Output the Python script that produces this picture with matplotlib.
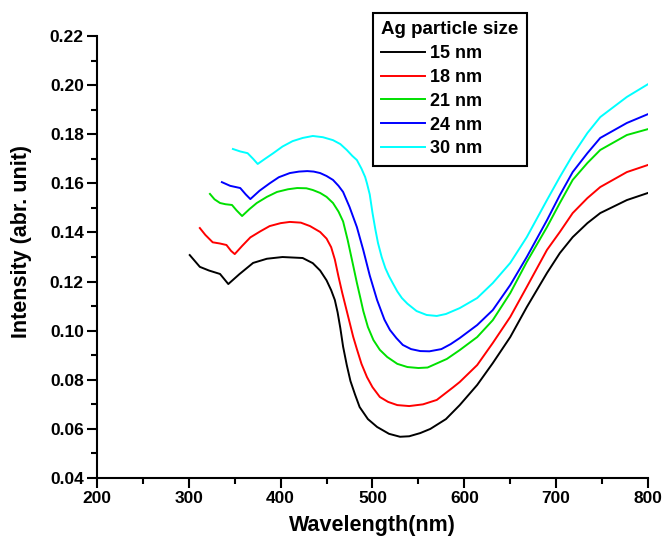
import numpy as np
import matplotlib
matplotlib.use('Agg')
import matplotlib.pyplot as plt
from matplotlib.ticker import MultipleLocator, FormatStrFormatter

plt.rcParams['font.family'] = ['Liberation Sans', 'DejaVu Sans']
plt.rcParams['font.weight'] = 'bold'

# values
labels = ['15 nm', '18 nm', '21 nm', '24 nm', '30 nm']
colors = ['black', '#ff0000', '#00e000', '#0000ff', '#00ffff']

w15 = [301, 312, 322, 334, 343, 355, 370, 385, 402, 424, 435, 443, 450, 455, 459, 462, 465, 468,
       472, 476, 481, 486, 495, 505, 518, 530, 540, 552, 563, 580, 595, 614, 631, 650, 668, 690,
       704, 718, 734, 748, 777, 800]
i15 = [0.1308, 0.126, 0.1245, 0.1231, 0.119, 0.123, 0.1276, 0.1293, 0.1300, 0.1296, 0.1275, 0.1245,
       0.1205, 0.1165, 0.1125, 0.1075, 0.1010, 0.0935, 0.0860, 0.0795, 0.074, 0.0689, 0.064,
       0.0608, 0.058, 0.0568, 0.0570, 0.0583, 0.0600, 0.0640, 0.0697, 0.0779, 0.0868, 0.0974,
       0.1096, 0.1235, 0.1316, 0.1381, 0.1438, 0.1479, 0.1532, 0.1561]

w18 = [312, 318, 326, 334, 341, 346, 350, 358, 367, 378, 388, 400, 410, 422, 432, 443, 450, 455,
       459, 463, 467, 471, 475, 479, 483, 488, 494, 500, 508, 517, 527, 540, 555, 570, 588, 595,
       614, 631, 650, 668, 690, 704, 718, 734, 748, 777, 800]
i18 = [0.1418, 0.139, 0.136, 0.1355, 0.1349, 0.1325, 0.1312, 0.1345, 0.138, 0.1405, 0.1426, 0.1438,
       0.1443, 0.144, 0.1426, 0.1402, 0.1375, 0.1340, 0.1290, 0.1220, 0.1155, 0.1095, 0.1035,
       0.0975, 0.0925, 0.0865, 0.0811, 0.0770, 0.0730, 0.0710, 0.0697, 0.0693, 0.0700, 0.0718,
       0.0770, 0.0791, 0.0860, 0.0950, 0.1056, 0.1178, 0.1329, 0.1402, 0.1479, 0.1540, 0.1585,
       0.1646, 0.1675]

w21 = [323, 328, 334, 340, 347, 352, 358, 366, 374, 385, 396, 408, 418, 428, 435, 443, 450, 457,
       463, 468, 473, 479, 483, 487, 490, 495, 501, 508, 516, 527, 538, 550, 560, 581, 595, 614,
       631, 650, 668, 690, 704, 718, 734, 748, 777, 800]
i21 = [0.1557, 0.1535, 0.152, 0.1515, 0.1512, 0.149, 0.1467, 0.1495, 0.152, 0.1545, 0.1565, 0.1576,
       0.1581, 0.158, 0.1573, 0.1561, 0.1545, 0.1520, 0.1485, 0.1445, 0.1369, 0.1265, 0.1195,
       0.1130, 0.1080, 0.1015, 0.0962, 0.0922, 0.0893, 0.0865, 0.0852, 0.0848, 0.0850, 0.0885,
       0.0921, 0.0974, 0.1043, 0.1153, 0.1280, 0.1422, 0.1520, 0.1614, 0.1683, 0.1736, 0.1797,
       0.1821]

w24 = [336, 345, 356, 362, 367, 377, 388, 398, 410, 420, 429, 436, 443, 450, 457, 463, 468, 475,
       483, 490, 497, 501, 505, 509, 513, 519, 526, 533, 542, 552, 562, 575, 585, 595, 614, 631,
       650, 668, 690, 704, 718, 734, 748, 777, 800]
i24 = [0.1605, 0.159, 0.1581, 0.1555, 0.1536, 0.157, 0.160, 0.1625, 0.1642, 0.1648, 0.165, 0.1648,
       0.1642, 0.1630, 0.1614, 0.1590, 0.1565, 0.1504, 0.1422, 0.1328, 0.1225, 0.1175, 0.1125,
       0.1085, 0.1045, 0.1003, 0.0970, 0.0942, 0.0925, 0.0917, 0.0916, 0.0925, 0.0945, 0.0970,
       0.1023, 0.1084, 0.1186, 0.1300, 0.1450, 0.1552, 0.1646, 0.1723, 0.1785, 0.1846, 0.1882]

w30 = [348, 356, 364, 370, 375, 383, 392, 402, 413, 424, 435, 446, 457, 465, 472, 478, 483, 488,
       492, 494, 497, 500, 503, 506, 510, 514, 518, 522, 527, 532, 538, 548, 559, 570, 580, 595,
       614, 631, 650, 668, 690, 704, 718, 734, 748, 777, 800]
i30 = [0.174, 0.173, 0.1723, 0.170, 0.1679, 0.170, 0.1723, 0.175, 0.1772, 0.1785, 0.1793, 0.1788,
       0.1776, 0.1760, 0.1736, 0.1712, 0.1695, 0.1660, 0.1626, 0.1600, 0.1555, 0.1480, 0.1415,
       0.1357, 0.1300, 0.1255, 0.1222, 0.1194, 0.1160, 0.1133, 0.1110, 0.1080, 0.1064, 0.1060,
       0.1068, 0.1092, 0.1133, 0.1194, 0.1276, 0.1381, 0.1532, 0.1626, 0.1715, 0.1805, 0.1870,
       0.1952, 0.2004]

wavelengths = [w15, w18, w21, w24, w30]
intensities = [i15, i18, i21, i24, i30]

fig = plt.figure(figsize=(6.67, 5.38), dpi=100)
ax = fig.add_axes([0.1454, 0.1115, 0.8261, 0.8215])

for w, i, c, lab in zip(wavelengths, intensities, colors, labels):
    ax.plot(w, i, color=c, lw=1.4, label=lab)

ax.set_xlim(200, 800)
ax.set_ylim(0.04, 0.22)
ax.xaxis.set_major_locator(MultipleLocator(100))
ax.xaxis.set_minor_locator(MultipleLocator(50))
ax.yaxis.set_major_locator(MultipleLocator(0.02))
ax.yaxis.set_minor_locator(MultipleLocator(0.01))
ax.yaxis.set_major_formatter(FormatStrFormatter('%.2f'))

for s in ['top', 'right']:
    ax.spines[s].set_visible(False)
for s in ['left', 'bottom']:
    ax.spines[s].set_linewidth(1.5)
ax.tick_params(which='major', direction='out', length=7, width=1.5, labelsize=12.5, pad=2.5)
ax.tick_params(which='minor', direction='out', length=4, width=1.5)
for t in ax.get_xticklabels() + ax.get_yticklabels():
    t.set_fontweight('bold')

ax.set_xlabel('Wavelength(nm)', fontsize=15.5, fontweight='bold', labelpad=6)
ax.set_ylabel('Intensity (abr. unit)', fontsize=15.5, fontweight='bold')
ax.yaxis.set_label_coords(-0.118, 0.536)

leg = ax.legend(title='Ag particle size', loc='upper left', bbox_to_anchor=(0.501, 1.052),
                borderaxespad=0, fontsize=13, title_fontsize=13.5, handlelength=2.45,
                handletextpad=0.28, labelspacing=0.38, borderpad=0.45, fancybox=False,
                framealpha=1, edgecolor='black')
leg.get_frame().set_linewidth(1.5)
leg.get_title().set_fontweight('bold')
leg._legend_box.align = 'left'
for t in leg.get_texts():
    t.set_fontweight('bold')

fig.savefig('out.png', dpi=100)
